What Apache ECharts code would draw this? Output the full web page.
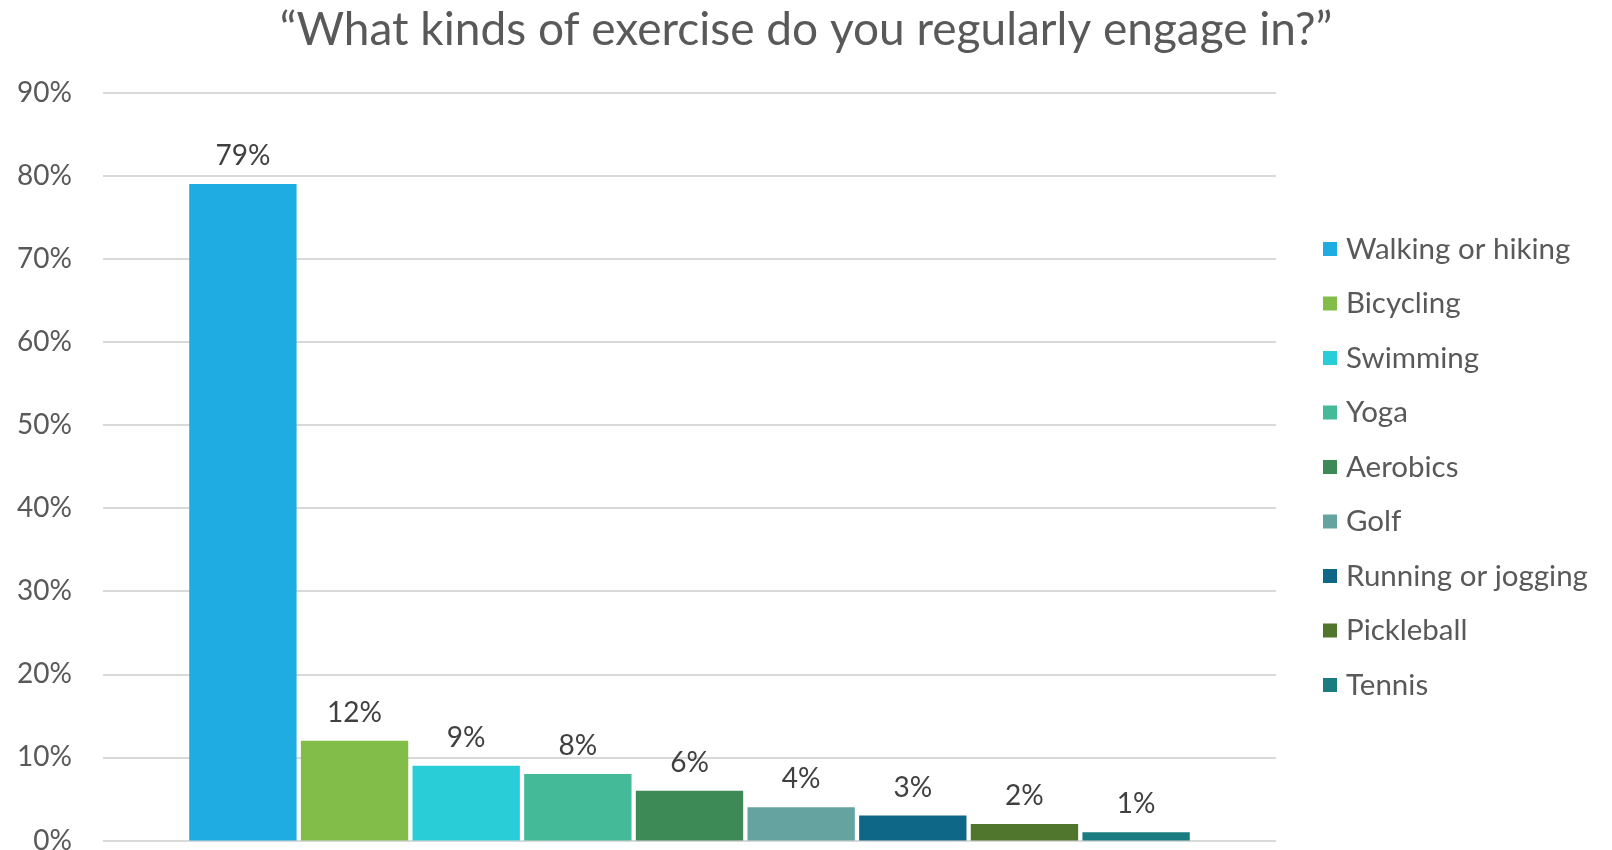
<!DOCTYPE html>
<html>
<head>
<meta charset="utf-8">
<style>
  html, body { margin: 0; padding: 0; background: #ffffff; }
  #chart { width: 1612px; height: 850px; }
</style>
<script src="https://cdn.jsdelivr.net/npm/echarts@6/dist/echarts.min.js"></script>
</head>
<body>
<div id="chart"></div>
<script>
// Survey answers: share of respondents per exercise type
const activities = ['Walking or hiking', 'Bicycling', 'Swimming', 'Yoga', 'Aerobics', 'Golf', 'Running or jogging', 'Pickleball', 'Tennis'];
const shares = [79, 12, 9, 8, 6, 4, 3, 2, 1];
const colors = ['#1EACE3', '#82BD4A', '#28CDD8', '#44BA98', '#3D8A56', '#64A3A0', '#0F6788', '#50752D', '#187C80'];
const yTicks = { min: 0, max: 90, interval: 10 };

const FONT = 'Lato';

const chart = echarts.init(document.getElementById('chart'), null, { renderer: 'canvas' });

const series = activities.map((name, i) => ({
  name: name,
  type: 'bar',
  data: [shares[i]],
  barGap: '4%',
  barCategoryGap: '14.7%',
  itemStyle: { color: colors[i] },
  label: {
    show: true,
    position: 'top',
    distance: 14,
    formatter: p => p.value + '%',
    color: '#404040',
    fontFamily: FONT,
    fontSize: 28
  }
}));

chart.setOption({
  animation: false,
  color: colors,
  title: {
    text: '\u201CWhat kinds of exercise do you regularly engage in?\u201D',
    left: 'center',
    top: 2,
    textStyle: { fontFamily: FONT, fontSize: 46, fontWeight: 'normal', color: '#595959' }
  },
  legend: {
    orient: 'vertical',
    left: 1318,
    top: 229,
    itemWidth: 14,
    itemHeight: 14,
    itemGap: 24.5,
    icon: 'rect',
    textStyle: { fontFamily: FONT, fontSize: 29.5, color: '#595959', lineHeight: 30, padding: [0, 0, 0, 4] },
    data: activities
  },
  grid: { left: 103, right: 336, top: 92.7, bottom: 9.5, containLabel: false, outerBoundsMode: 'none' },
  xAxis: {
    type: 'category',
    data: [''],
    axisLine: { show: false },
    axisTick: { show: false },
    axisLabel: { show: false }
  },
  yAxis: {
    type: 'value',
    min: yTicks.min,
    max: yTicks.max,
    interval: yTicks.interval,
    axisLine: { show: false },
    axisTick: { show: false },
    axisLabel: {
      formatter: v => v + '%',
      color: '#595959',
      fontFamily: FONT,
      fontSize: 28,
      margin: 31
    },
    splitLine: { lineStyle: { color: '#D9D9D9', width: 2 } }
  },
  series: series
});
</script>
</body>
</html>
